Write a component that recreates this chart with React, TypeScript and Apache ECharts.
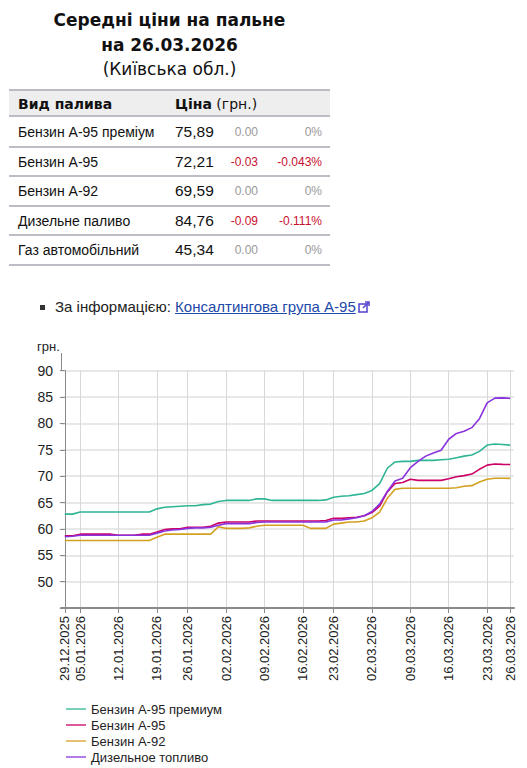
import React, { useEffect, useRef } from "react";
import * as echarts from "echarts";

const dates = [
  "29.12.2025", "30.12.2025",
  "05.01.2026", "06.01.2026", "07.01.2026", "08.01.2026", "09.01.2026",
  "12.01.2026", "13.01.2026", "14.01.2026", "15.01.2026", "16.01.2026",
  "19.01.2026", "20.01.2026", "21.01.2026", "22.01.2026",
  "26.01.2026", "27.01.2026", "28.01.2026", "29.01.2026", "30.01.2026",
  "02.02.2026", "03.02.2026", "04.02.2026", "05.02.2026", "06.02.2026",
  "09.02.2026", "10.02.2026", "11.02.2026", "12.02.2026", "13.02.2026",
  "16.02.2026", "17.02.2026", "18.02.2026", "19.02.2026",
  "23.02.2026", "24.02.2026", "25.02.2026", "26.02.2026", "27.02.2026",
  "02.03.2026", "03.03.2026", "04.03.2026", "05.03.2026", "06.03.2026",
  "09.03.2026", "10.03.2026", "11.03.2026", "12.03.2026", "13.03.2026",
  "16.03.2026", "17.03.2026", "18.03.2026", "19.03.2026", "20.03.2026",
  "23.03.2026", "24.03.2026", "25.03.2026", "26.03.2026",
];

const labeledIdx = [0, 2, 7, 12, 16, 21, 26, 31, 35, 40, 45, 50, 55, 58];

const premium = [
  62.8, 62.8, 63.2, 63.2, 63.2, 63.2, 63.2, 63.2, 63.2, 63.2, 63.2, 63.2,
  63.8, 64.1, 64.2, 64.3, 64.4, 64.4, 64.6, 64.7, 65.2, 65.4, 65.4, 65.4,
  65.4, 65.7, 65.7, 65.4, 65.4, 65.4, 65.4, 65.4, 65.4, 65.4, 65.5, 66.0,
  66.2, 66.3, 66.5, 66.7, 67.3, 68.6, 71.5, 72.7, 72.8, 72.8, 73.0, 73.0,
  73.0, 73.1, 73.2, 73.5, 73.8, 74.0, 74.7, 75.9, 76.1, 76.0, 75.89,
];

const a95 = [
  58.7, 58.7, 59.0, 59.0, 59.0, 59.0, 59.0, 58.8, 58.8, 58.8, 59.0, 59.0,
  59.4, 59.9, 60.0, 60.0, 60.3, 60.3, 60.3, 60.5, 61.1, 61.3, 61.3, 61.3,
  61.3, 61.5, 61.5, 61.5, 61.5, 61.5, 61.5, 61.5, 61.5, 61.5, 61.6, 62.0,
  62.0, 62.1, 62.2, 62.5, 63.1, 64.3, 67.0, 68.6, 68.8, 69.4, 69.2, 69.2,
  69.2, 69.2, 69.5, 69.9, 70.1, 70.4, 71.3, 72.1, 72.3, 72.24, 72.21,
];

const a92 = [
  57.8, 57.8, 57.8, 57.8, 57.8, 57.8, 57.8, 57.8, 57.8, 57.8, 57.8, 57.8,
  58.4, 59.0, 59.0, 59.0, 59.0, 59.0, 59.0, 59.0, 60.4, 60.1, 60.1, 60.1,
  60.2, 60.5, 60.7, 60.7, 60.7, 60.7, 60.7, 60.7, 60.1, 60.1, 60.1, 60.9,
  61.1, 61.3, 61.3, 61.5, 62.1, 63.2, 65.8, 67.5, 67.7, 67.7, 67.7, 67.7,
  67.7, 67.7, 67.7, 67.8, 68.1, 68.2, 68.9, 69.4, 69.6, 69.6, 69.59,
];

const diesel = [
  58.5, 58.6, 58.8, 58.8, 58.8, 58.8, 58.8, 58.8, 58.8, 58.8, 58.8, 58.8,
  59.2, 59.6, 59.8, 59.9, 60.1, 60.2, 60.2, 60.3, 60.7, 61.0, 61.0, 61.0,
  61.0, 61.2, 61.3, 61.3, 61.3, 61.3, 61.3, 61.3, 61.3, 61.3, 61.3, 61.7,
  61.7, 61.9, 62.1, 62.5, 63.3, 64.7, 67.1, 69.1, 69.6, 71.6, 72.8, 73.8,
  74.4, 74.9, 77.0, 78.1, 78.5, 79.2, 80.9, 83.9, 84.8, 84.85, 84.76,
];

const seriesNames = ["Бензин А-95 премиум", "Бензин А-95", "Бензин А-92", "Дизельное топливо"];
const seriesColors = ["#2fb595", "#cc0066", "#d4a020", "#8a33dd"];

const tableNames = ["Бензин А-95 преміум", "Бензин А-95", "Бензин А-92", "Дизельне паливо", "Газ автомобільний"];
const tablePrices = ["75,89", "72,21", "69,59", "84,76", "45,34"];
const tableChanges = ["0.00", "-0.03", "0.00", "-0.09", "0.00"];
const tablePcts = ["0%", "-0.043%", "0%", "-0.111%", "0%"];

const SANS = "'Liberation Sans', Arial, sans-serif";
const VERD = "'DejaVu Sans', Verdana, sans-serif";

function Chart() {
  const ref = useRef<HTMLDivElement>(null);
  useEffect(() => {
    if (!ref.current) return;
    const chart = echarts.init(ref.current, undefined, { renderer: "svg" });
    const all = [premium, a95, a92, diesel];
    chart.setOption({
      animation: false,
      textStyle: { fontFamily: SANS },
      grid: { left: 61, right: 13, top: 40.7, bottom: 160, outerBoundsMode: "none", containLabel: false },
      legend: {
        orient: "vertical",
        left: 66,
        top: 372.5,
        padding: 0,
        icon: "rect",
        itemWidth: 20,
        itemHeight: 2,
        itemGap: 3,
        itemStyle: { opacity: 0.65 },
        textStyle: { fontFamily: SANS, fontSize: 13, color: "#222" },
        data: seriesNames,
      },
      xAxis: {
        type: "value",
        min: -0.5,
        max: 58.5,
        axisLine: { show: true, lineStyle: { color: "#8a8a8a", width: 2 } },
        axisTick: { show: true, length: 5, customValues: labeledIdx, lineStyle: { color: "#8a8a8a" } },
        axisLabel: {
          customValues: labeledIdx,
          rotate: 90,
          margin: 8,
          fontSize: 13,
          fontFamily: SANS,
          color: "#222",
          formatter: (v: number) => dates[Math.round(v)] ?? "",
        },
        splitLine: { show: true, lineStyle: { color: "#d8d8d8", width: 1 } },
      },
      yAxis: {
        type: "value",
        min: 45,
        max: 90,
        interval: 5,
        axisLine: { show: true, lineStyle: { color: "#8a8a8a", width: 1 } },
        axisTick: { show: true, length: 5, lineStyle: { color: "#8a8a8a" } },
        axisLabel: {
          margin: 8,
          fontSize: 14,
          fontFamily: SANS,
          color: "#222",
          formatter: (v: number) => (v === 45 ? "" : String(v)),
        },
        splitLine: { show: true, lineStyle: { color: "#e8e8e8", width: 2 } },
      },
      graphic: [
        {
          type: "line",
          shape: { x1: 61.5, y1: 23, x2: 61.5, y2: 41 },
          style: { stroke: "#8a8a8a", lineWidth: 1 },
          silent: true,
        },
        {
          type: "text",
          left: 37,
          top: 10,
          style: { text: "грн.", font: `13px ${SANS}`, fill: "#222" },
          silent: true,
        },
      ],
      series: all.map((vals, k) => ({
        name: seriesNames[k],
        type: "line",
        symbol: "none",
        showSymbol: false,
        lineStyle: { color: seriesColors[k], width: 1.6 },
        itemStyle: { color: seriesColors[k] },
        data: vals.map((v, i) => [i, v]),
      })),
    });
    return () => chart.dispose();
  }, []);
  return <div ref={ref} style={{ position: "absolute", left: 0, top: 330, width: 527, height: 438 }} />;
}

function ExtIcon() {
  return (
    <svg width="12" height="12" viewBox="0 0 12 12" style={{ display: "inline-block", marginLeft: 2, verticalAlign: "-1px" }}>
      <rect x="1" y="3" width="8" height="8" fill="none" stroke="#5a4ad0" strokeWidth="1.6" />
      <path d="M5 7 L11 1 M7 1 H11 V5" fill="none" stroke="#5a4ad0" strokeWidth="1.6" />
    </svg>
  );
}

export default function App() {
  const rowTop = 118;
  const rowH = 29.5;
  return (
    <div style={{ position: "absolute", left: 0, top: 0, width: 527, height: 768, background: "#fff", overflow: "hidden" }}>
      <div
        style={{
          position: "absolute",
          left: 9,
          top: 8,
          width: 321,
          textAlign: "center",
          fontFamily: VERD,
          fontSize: 17,
          lineHeight: "24.5px",
          color: "#111",
        }}
      >
        <div style={{ fontWeight: "bold" }}>Середні ціни на пальне</div>
        <div style={{ fontWeight: "bold" }}>на 26.03.2026</div>
        <div>(Київська обл.)</div>
      </div>

      <div
        style={{
          position: "absolute",
          left: 9,
          top: 89,
          width: 321,
          height: 28,
          background: "#eeeeee",
          borderTop: "2px solid #bcbcc4",
          borderBottom: "2px solid #bcbcc4",
          boxSizing: "border-box",
        }}
      />
      <div style={{ position: "absolute", left: 18, top: 94, lineHeight: "20px", fontFamily: VERD, fontSize: 14, fontWeight: "bold", color: "#111" }}>
        Вид палива
      </div>
      <div style={{ position: "absolute", left: 175, top: 94, lineHeight: "20px", fontFamily: VERD, fontSize: 14, color: "#111", whiteSpace: "nowrap" }}>
        <b>Ціна</b> (грн.)
      </div>

      {tableNames.map((name, k) => {
        const top = rowTop + k * rowH;
        const neg = tableChanges[k].startsWith("-");
        const cc = neg ? "#c8102e" : "#999";
        return (
          <React.Fragment key={name}>
            <div
              style={{
                position: "absolute",
                left: 9,
                top: top,
                width: 321,
                height: rowH,
                borderBottom: "2px solid #bcbcc4",
                boxSizing: "border-box",
              }}
            />
            <div style={{ position: "absolute", left: 18, top: top + 4, lineHeight: "20px", fontFamily: SANS, fontSize: 14, color: "#111", whiteSpace: "nowrap" }}>
              {name}
            </div>
            <div style={{ position: "absolute", left: 175, top: top + 4, lineHeight: "20px", fontFamily: SANS, fontSize: 15.5, color: "#111" }}>
              {tablePrices[k]}
            </div>
            <div style={{ position: "absolute", right: 527 - 258, top: top + 5, lineHeight: "18px", fontFamily: SANS, fontSize: 12, color: cc, textAlign: "right" }}>
              {tableChanges[k]}
            </div>
            <div style={{ position: "absolute", right: 527 - 322, top: top + 5, lineHeight: "18px", fontFamily: SANS, fontSize: 12, color: cc, textAlign: "right" }}>
              {tablePcts[k]}
            </div>
          </React.Fragment>
        );
      })}

      <div style={{ position: "absolute", left: 40, top: 304.5, width: 5, height: 5, background: "#333" }} />
      <div style={{ position: "absolute", left: 55, top: 297, lineHeight: "20px", fontFamily: SANS, fontSize: 15, color: "#222", whiteSpace: "nowrap" }}>
        За інформацією:{" "}
        <span style={{ color: "#1d49a8", textDecoration: "underline" }}>Консалтингова група А-95</span>
        <ExtIcon />
      </div>

      <Chart />
    </div>
  );
}
